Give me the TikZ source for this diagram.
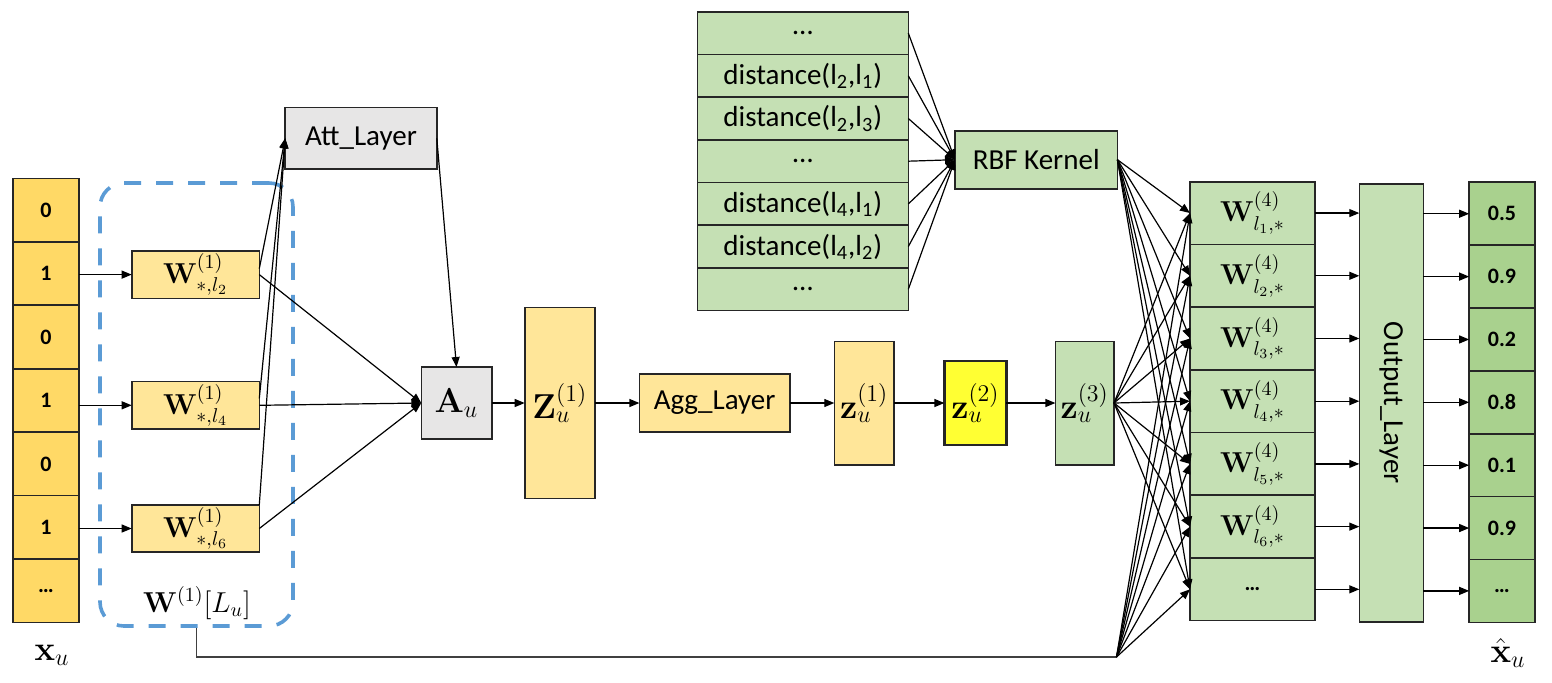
\documentclass[tikz,border=0pt]{standalone}
\usepackage{amsmath}
\usepackage[no-math]{fontspec}
\setmainfont{Carlito}
\usepackage{graphicx}
\usepackage{xcolor}
\usepackage{tikz}
\usetikzlibrary{calc, arrows.meta}

\definecolor{cellyellow}{HTML}{FFD966}
\definecolor{lightyellow}{HTML}{FFE699}
\definecolor{brightyellow}{HTML}{FFFF33}
\definecolor{lightgreen}{HTML}{C5E0B4}
\definecolor{midgreen}{HTML}{A9D18E}
\definecolor{boxgray}{HTML}{E7E6E6}
\definecolor{setblue}{HTML}{5B9BD5}

\begin{document}
\begin{tikzpicture}[x=0.5pt, y=-0.5pt, font=\fontsize{14.5}{17}\selectfont,
        box/.style={draw=black!85, line width=0.8pt, inner sep=0pt, outer sep=0pt, align=center},
        cell/.style={box, font=\fontsize{11}{13}\selectfont\bfseries},
        big/.style={font=\fontsize{17.28}{20}\selectfont},
        conn/.style={-{Triangle[length=5pt, width=4pt]}, line width=0.6pt}]
        \useasboundingbox (0,0) rectangle (1552,682);

        % input
        \foreach \v [count=\i] in {0,1,0,1,0,1,…}
            \node[cell, fill=cellyellow, minimum width=33pt, minimum height=31.7pt] (x\i) at (46, {146.7+63.43*\i}) {\v};
        \node[big] (xlab) at (52,655) {$\mathbf{x}_u$};

        % W^(1)[L_u]
        \node[draw=setblue, line width=1.8pt, dash pattern=on 8.5pt off 7.5pt, rounded corners=12pt, minimum width=96.5pt, minimum height=221.5pt] (wset) at (196.5,404.5) {};
        \node (wsetlab) at (197,603) {$\mathbf{W}^{(1)}[L_u]$};
        \foreach \i/\y in {2/274.6, 4/405.3, 6/528.5}
            \node[box, fill=lightyellow, minimum width=63.8pt, minimum height=23.7pt] (w\i) at (195.5,\y) {$\mathbf{W}^{(1)}_{*,l_{\i}}$};

        \node[box, fill=boxgray, minimum width=75.8pt, minimum height=30.7pt] (att) at (361,138.3) {Att\_Layer};
        \node[box, big, fill=boxgray, minimum width=35.2pt, minimum height=36pt] (au) at (456.5,403) {$\mathbf{A}_u$};
        \node[box, big, fill=lightyellow, minimum width=35.1pt, minimum height=95.5pt] (zbig) at (559.8,403) {$\mathbf{Z}^{(1)}_u$};
        \node[box, fill=lightyellow, minimum width=75.2pt, minimum height=29.2pt] (agg) at (714.6,403) {Agg\_Layer};
        \node[box, big, fill=lightyellow, minimum width=29.9pt, minimum height=61.7pt] (z1) at (864.2,403) {$\mathbf{z}^{(1)}_u$};
        \node[box, big, fill=brightyellow, line width=1.2pt, minimum width=31pt, minimum height=42.2pt] (z2) at (975.4,403) {$\mathbf{z}^{(2)}_u$};
        \node[box, big, fill=lightgreen, minimum width=29.3pt, minimum height=61.7pt] (z3) at (1084.7,403) {$\mathbf{z}^{(3)}_u$};

        % distances
        \foreach \t [count=\i] in {…, {distance(l\textsubscript{2},l\textsubscript{1})}, {distance(l\textsubscript{2},l\textsubscript{3})}, …, {distance(l\textsubscript{4},l\textsubscript{1})}, {distance(l\textsubscript{4},l\textsubscript{2})}, …}
            \node[box, fill=lightgreen, minimum width=105.5pt, minimum height=21.35pt] (d\i) at (802.8, {-9.66+42.71*\i}) {\t};
        \node[box, fill=lightgreen, minimum width=81.2pt, minimum height=29pt] (rbf) at (1036.2,159.7) {RBF Kernel};

        % W^(4)
        \foreach \i in {1,...,6}
            \node[box, fill=lightgreen, minimum width=62.5pt, minimum height=31.35pt] (v\i) at (1252.5, {150.35+62.71*\i}) {$\mathbf{W}^{(4)}_{l_{\i},*}$};
        \node[cell, fill=lightgreen, minimum width=62.5pt, minimum height=31.35pt] (v7) at (1252.5, {150.35+62.71*7}) {…};
        \node[box, fill=lightgreen, minimum width=32pt, minimum height=218.9pt] (outl) at (1391.3,402.8) {\rotatebox{-90}{Output\_Layer}};

        % output
        \foreach \v [count=\i] in {0.5,0.9,0.2,0.8,0.1,0.9,…}
            \node[cell, fill=midgreen, minimum width=32.85pt, minimum height=31.45pt] (o\i) at (1502, {150.87+62.86*\i}) {\v};
        \node[big] (olab) at (1508,653) {$\hat{\mathbf{x}}_u$};
        \coordinate (fan) at (1116.5,657);

        % lookup
        \foreach \i in {2,4,6} {
            \draw[conn] (x\i.east |- w\i.west) -- (w\i.west);
            \draw[conn] (w\i.east) -- (au.west);
        }
        \draw[conn] ($(w2.east) + (0,-6)$) -- (att.west);
        \draw[conn] ($(w4.east) + (0,-7)$) -- (att.west);
        \draw[conn] (w6.north east) -- (att.west);
        \draw[conn] (att.east) -- (au.north);

        % encoder
        \draw[conn] (au) -- (zbig);
        \draw[conn] (zbig) -- (agg);
        \draw[conn] (agg) -- (z1);
        \draw[conn] (z1) -- (z2);
        \draw[conn] (z2) -- (z3);

        % rbf
        \foreach \i in {1,...,7}
            \draw[conn] (d\i.east) -- (rbf.west);

        % decoder
        \draw[line width=0.8pt, draw=black!75] (wset.south) |- (fan);
        \foreach \i in {1,...,7} {
            \draw[conn] (rbf.east) -- (v\i.west);
            \draw[conn] (z3.east) -- (v\i.west);
            \draw[conn] (fan) -- (v\i.west);
            \draw[conn] (v\i.east) -- (outl.west |- v\i.east);
            \draw[conn] (outl.east |- o\i.west) -- (o\i.west);
        }
    \end{tikzpicture}
\end{document}
